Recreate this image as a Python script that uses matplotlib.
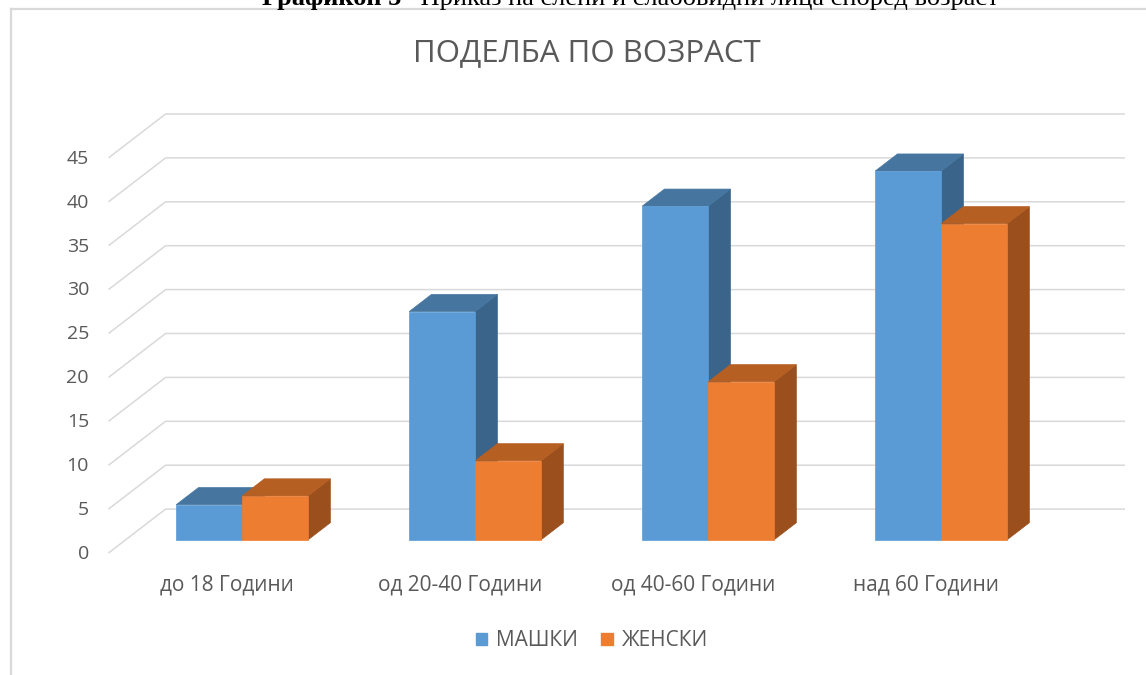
import matplotlib.pyplot as plt
from matplotlib.patches import Polygon, Patch

# data
categories = ["до 18 Години", "од 20-40 Години", "од 40-60 Години", "над 60 Години"]
male = [4, 26, 38, 42]
female = [5, 9, 18, 36]
series_names = ["МАШКИ", "ЖЕНСКИ"]
y_ticks = list(range(0, 50, 5))

# colours (front, top, side) like the Excel 3D look
BLUE = ("#5B9BD5", "#46769F", "#3A6489")
ORANGE = ("#ED7D31", "#B55F23", "#9A4F1D")
GRID = "#D9D9D9"
TEXT = "#595959"

# oblique projection: full depth in data units (x in categories, y in values)
DX, DY = 0.245, 5.0
D0, DD = 0.30, 0.39  # bar starts at 30% of the depth and is 39% deep
W = 0.283            # width of one bar

plt.rcParams["font.family"] = ["Open Sans", "DejaVu Sans"]

fig = plt.figure(figsize=(11.46, 6.75), dpi=100)
ax = fig.add_axes([0, 0, 1, 1])
# axes spans the whole figure, map pixels -> data
ax.set_xlim((0 - 108.5) / 233 - 0.5, (1146 - 108.5) / 233 - 0.5)
ax.set_ylim((553 - 675) / 8.78, 553 / 8.78)
ax.axis("off")

# walls: diagonal floor/side lines plus back wall gridlines
x_front = -0.5
x_back_end = (1125 - 108.5) / 233 - 0.5
for v in y_ticks:
    ax.plot([x_front, x_front + DX, x_back_end], [v, v + DY, v + DY],
            color=GRID, lw=1.1, solid_capstyle="butt", zorder=1)
    ax.text((89 - 108.5) / 233 - 0.5, v - 0.1, str(v), ha="right", va="center",
            fontsize=14, color=TEXT)


def draw_bar(xl, value, cols):
    xr = xl + W
    yb = D0 * DY
    yt = yb + value
    ox, oy = DD * DX, DD * DY
    side = Polygon([(xr, yb), (xr + ox, yb + oy), (xr + ox, yt + oy), (xr, yt)],
                   closed=True, fc=cols[2], ec=cols[2], lw=0.5, zorder=3)
    top = Polygon([(xl, yt), (xr, yt), (xr + ox, yt + oy), (xl + ox, yt + oy)],
                  closed=True, fc=cols[1], ec=cols[1], lw=0.5, zorder=3)
    front = Polygon([(xl, yb), (xr, yb), (xr, yt), (xl, yt)],
                    closed=True, fc=cols[0], ec=cols[0], lw=0.5, zorder=3)
    for p in (side, top, front):
        ax.add_patch(p)


for i, (m, f) in enumerate(zip(male, female)):
    center = i + D0 * DX
    draw_bar(center - W, m, BLUE)
    draw_bar(center, f, ORANGE)
    ax.text(i + 0.01, -3.7, categories[i], ha="center", va="center",
            fontsize=15, color=TEXT)

# title and the cut-off caption above the chart frame (cut in the reference too)
fig.text(587 / 1146, 1 - 53 / 675, "ПОДЕЛБА ПО ВОЗРАСТ", ha="center", va="center",
         fontsize=22.5, color=TEXT)
fig.text(262 / 1146, 1 - 5 / 675, "Графикон 5", ha="left", va="baseline",
         fontsize=19, fontweight="bold", family="Liberation Serif", color="black")
fig.text(405 / 1146, 1 - 5 / 675, "- Приказ на слепи и слабовидни лица според возраст",
         ha="left", va="baseline", fontsize=19, family="Liberation Serif", color="black")

# chart frame (left and top edges visible)
ax.plot([(11 - 108.5) / 233 - 0.5] * 2, [(553 - 675) / 8.78, (553 - 8.5) / 8.78],
        color=GRID, lw=1.6, zorder=1)
ax.plot([(11 - 108.5) / 233 - 0.5, (1146 - 108.5) / 233 - 0.5],
        [(553 - 8.5) / 8.78] * 2, color=GRID, lw=1.6, zorder=1)

handles = [Patch(color=BLUE[0]), Patch(color=ORANGE[0])]
fig.legend(handles, series_names, loc="center", bbox_to_anchor=(592 / 1146, 1 - 641 / 675),
           ncol=2, frameon=False, handlelength=0.55, handleheight=0.55, handletextpad=0.45,
           columnspacing=1.1, fontsize=15, labelcolor=TEXT)

fig.savefig("out.png", dpi=100)
